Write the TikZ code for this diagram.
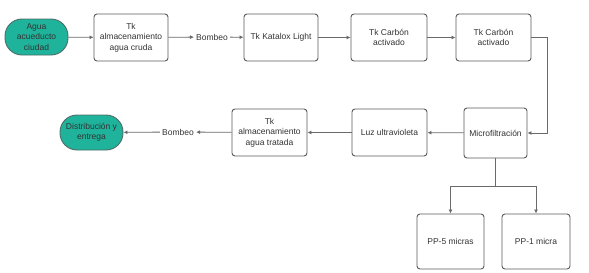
\documentclass[tikz,border=0pt]{standalone}
\usepackage{fontspec}
\setmainfont{Liberation Sans}
\usetikzlibrary{arrows.meta}
\definecolor{teal1}{HTML}{1FB39B}
\definecolor{bordc}{HTML}{5A5A5A}
\definecolor{linec}{HTML}{6A6A6A}
\definecolor{txtc}{HTML}{333333}
\begin{document}
\begin{tikzpicture}[x=1pt,y=-1pt,
  every node/.style={font=\fontsize{8.5}{10.5}\selectfont, text=txtc, align=center},
  procbox/.style={draw=bordc, line width=0.9pt, rounded corners=3pt, fill=white, inner sep=1pt},
  termbox/.style={draw=bordc!80!teal1, line width=0.9pt, rounded corners=17pt, fill=teal1, inner sep=1pt},
  lbl/.style={inner sep=2pt},
  conn/.style={draw=linec, line width=0.8pt, -{Latex[length=4pt,width=4pt]}},
  plain/.style={draw=linec, line width=0.8pt}]
\useasboundingbox (0,0) rectangle (589,273);
\node[termbox, minimum width=63pt, minimum height=36pt] (agua) at (36.5,37) {Agua\\acueducto\\ciudad};
\node[procbox, minimum width=74pt, minimum height=47pt] (tk1) at (131,37.5) {Tk\\almacenamiento\\agua cruda};
\node[lbl] (bom1) at (212,37) {Bombeo};
\node[procbox, minimum width=74pt, minimum height=47pt] (kat) at (281,37.5) {Tk Katalox Light};
\node[procbox, minimum width=76pt, minimum height=47pt] (car1) at (389,37.5) {Tk Carbón\\activado};
\node[procbox, minimum width=75pt, minimum height=47pt] (car2) at (493.5,37.5) {Tk Carbón\\activado};
\node[procbox, minimum width=63pt, minimum height=50pt] (micro) at (495.5,133) {Microfiltración};
\node[procbox, minimum width=75pt, minimum height=47pt] (luz) at (389.5,132.5) {Luz ultravioleta};
\node[procbox, minimum width=75pt, minimum height=47pt] (tk2) at (269.5,132.5) {Tk\\almacenamiento\\agua tratada};
\node[lbl] (bom2) at (178,132) {Bombeo};
\node[termbox, minimum width=63pt, minimum height=35pt] (dist) at (91.5,132.5) {Distribución y\\entrega};
\node[procbox, minimum width=67pt, minimum height=55pt] (pp5) at (450.5,241.5) {PP-5 micras};
\node[procbox, minimum width=68pt, minimum height=55pt] (pp1) at (536,241.5) {PP-1 micra};
\coordinate (branch) at (495.5,186);
\draw[conn] (agua) -- (tk1);
\draw[conn] (tk1) -- (bom1);
\draw[conn] (bom1) -- (kat);
\draw[conn] (kat) -- (car1);
\draw[conn] (car1) -- (car2);
\draw[conn] (car2.east) -- ++(16,0) |- (micro.east);
\draw[conn] (micro) -- (luz);
\draw[conn] (luz) -- (tk2);
\draw[conn] (tk2) -- (bom2);
\draw[conn] (bom2) -- (dist);
\draw[plain] (micro.south) -- (branch);
\draw[conn] (branch) -| (pp5.north);
\draw[conn] (branch) -| (pp1.north);
\end{tikzpicture}
\end{document}
